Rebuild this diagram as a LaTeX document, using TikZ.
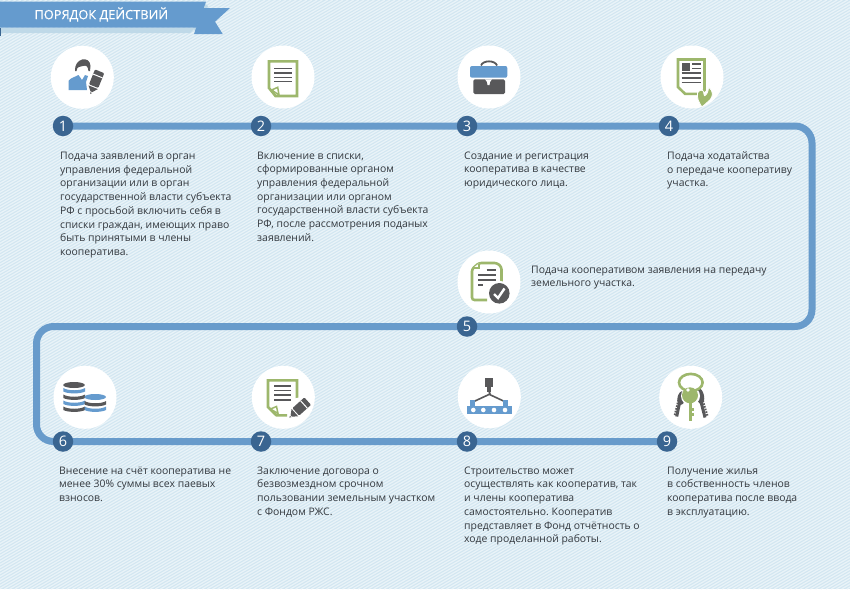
\documentclass[tikz,border=0pt]{standalone}
\usepackage{fontspec}
\usetikzlibrary{backgrounds}
\setmainfont{Open Sans}
\frenchspacing
\definecolor{bgc}{HTML}{D2E6F1}
\definecolor{stripe}{HTML}{E9F3F8}
\definecolor{pathc}{HTML}{689BCB}
\definecolor{numc}{HTML}{3A6591}
\definecolor{ribbon}{HTML}{659BCE}
\definecolor{ribshade}{HTML}{BFD9E8}
\definecolor{grn}{HTML}{9DB76C}
\definecolor{gry}{HTML}{58585A}
\definecolor{txt}{HTML}{33383E}
\newcommand{\pencilicon}[3]{%
  \begin{scope}[shift={(#1,#2)},rotate=#3]
    \fill[gry,rounded corners=1pt] (-5,-11) rectangle (5,5);
    \fill[white] (-5,-6.5) rectangle (5,-5.5);
    \fill[gry] (-5,6.2) -- (5,6.2) -- (1,11) -- (-1,11) -- cycle;
    \fill[gry] (-1,12) -- (1,12) -- (0,13.5) -- cycle;
  \end{scope}}
\newcommand{\coinband}[4]{% x1, x2, y, colour
  \pgfmathsetmacro\xa{#1+(#2-#1)*0.2}
  \pgfmathsetmacro\xb{#1+(#2-#1)*0.8}
  \pgfmathsetmacro\ya{#3+3}
  \pgfmathsetmacro\yb{#3+6}
  \pgfmathsetmacro\yc{#3+3.5}
  \fill[#4] (#1,#3) .. controls (\xa,\ya) and (\xb,\ya) .. (#2,#3) -- (#2,\yc) .. controls (\xb,\yb) and (\xa,\yb) .. (#1,\yc) -- cycle;}
\tikzset{
  x=1pt,y=-1pt,
  route/.style={draw=pathc,line width=7pt,rounded corners=17pt},
  num/.style={circle,fill=numc,minimum size=20.5pt,inner sep=0pt,text=white,font=\fontsize{14.5}{14.5}\selectfont},
  disc/.style={circle,fill=white,minimum size=63pt,inner sep=0pt},
  body/.style={anchor=north west,align=left,inner sep=0pt,text=txt,font=\fontsize{10.4}{13.7}\selectfont},
  grline/.style={draw=grn,fill=white,line width=2.6pt,line join=miter},
  fold/.style={draw=grn,fill=white,line width=1.5pt},
  ln/.style={draw=gry,line width=1.5pt},
}
\begin{document}
\begin{tikzpicture}
\useasboundingbox (0,0) rectangle (850,589);
\begin{pgfonlayer}{background}
\fill[bgc] (0,0) rectangle (850,589);
\begin{scope}
\clip (0,0) rectangle (850,589);
\foreach \k in {0,5.2,...,1900}{
  \draw[stripe,line width=1.3pt] (\k,0) -- ++(-1020,589);
}
\end{scope}
\end{pgfonlayer}
% ribbon
\fill[ribshade] (0,28) -- (195,28) -- (190,33) -- (0,33) -- cycle;
\fill[ribshade] (193,28) -- (204,3) -- (208,6) -- (197,33) -- cycle;
\fill[ribbon] (0,1.7) -- (206,1.7) -- (196.5,27.7) -- (0,27.7) -- cycle;
\fill[ribbon] (203,8) -- (230,8) -- (215,21.7) -- (222.7,34) -- (194,34) -- cycle;
\fill[numc] (0,28) rectangle (1.2,36);
\node[anchor=west,text=white,inner sep=0pt,font=\fontsize{12.8}{14}\selectfont\addfontfeature{FakeBold=0.4}] (title) at (34.3,14.5) {ПОРЯДОК ДЕЙСТВИЙ};
% route corners
\coordinate (c1) at (812,126);
\coordinate (c2) at (812,326.5);
\coordinate (c3) at (36.5,326.5);
\coordinate (c4) at (36.5,441.5);
% discs
\node[disc] (d1) at (82.3,77.3) {};
\node[disc] (d2) at (283,77) {};
\node[disc] (d3) at (489,77) {};
\node[disc] (d4) at (692,77) {};
\node[disc] (d5) at (489,282) {};
\node[disc] (d6) at (85,397.3) {};
\node[disc] (d7) at (283.3,397.3) {};
\node[disc] (d8) at (489.3,396.7) {};
\node[disc] (d9) at (690.7,397.3) {};
% numbers
\node[num] (n1) at (63,126) {1};
\node[num] (n2) at (261,126) {2};
\node[num] (n3) at (467,126) {3};
\node[num] (n4) at (669,126) {4};
\node[num] (n5) at (467,326.5) {5};
\node[num] (n6) at (63,441.5) {6};
\node[num] (n7) at (261,441.5) {7};
\node[num] (n8) at (467,441.5) {8};
\node[num] (n9) at (667,441.5) {9};
\begin{pgfonlayer}{background}
\draw[route] (n1.center) -- (c1) -- (c2) -- (c3) -- (c4) -- (n9.center);
\end{pgfonlayer}
% icon 1: man + pencil
\fill[gry] (75,71) .. controls (74,58) and (90,55) .. (90.5,66) -- (90,71) -- (88.5,71) .. controls (88,66) and (86,65) .. (83,66) .. controls (80,67) and (77,66) .. (76.5,71) -- cycle;
\fill[ribbon] (68.5,90) -- (68.5,81) .. controls (70,78) and (75,77) .. (78.5,75) -- (82,80) -- (85,75) -- (88,76) -- (86,82) -- (87,90) -- cycle;
\pencilicon{95.5}{81.5}{-22}
% icon 2: document
\draw[grline] (269,61.3) -- (297,61.3) -- (297,96) -- (275.5,96) -- (269,88) -- cycle;
\draw[fold] (271.7,90) -- (277.7,87.3) -- (279,95) -- cycle;
\foreach \y in {68.3,73,77.5,81.7}{\draw[ln] (274,\y) -- (292,\y);}
% icon 3: briefcase
\draw[gry,line width=1.8pt] (481,65.5) .. controls (483,60) and (495,60) .. (497,65.5);
\fill[gry,rounded corners=1.5pt] (473.3,79.3) rectangle (505,94);
\fill[ribbon,rounded corners=2pt] (470,66) rectangle (507.3,77.7);
\fill[white] (485,79.3) -- (492,79.3) -- (490,82) -- (489.5,85) -- (487.5,85) -- (487,82) -- cycle;
% icon 4: document + hand
\draw[grline] (678,59.5) -- (704.5,59.5) -- (704.5,90) -- (700,93.8) -- (685,93.8) -- (678,87) -- cycle;
\fill[gry] (681.7,63.3) rectangle (690,70.7);
\foreach \y in {64,68.3}{\draw[gry,line width=1.6pt] (692.3,\y) -- (701,\y);}
\foreach \y in {72.8,77.7,82.3}{\draw[gry,line width=1.6pt] (681.7,\y) -- (701,\y);}
\filldraw[fill=grn,draw=white,line width=0.8pt,rounded corners=2pt] (697.7,90.7) -- (703.3,90) -- (704.3,96.7) -- (708.3,91.7) -- (708.3,86.7) -- (712.7,91.7) -- (711.7,98.3) -- (701.7,107.3) -- (697.3,98.3) -- cycle;
% icon 5: document + check
\draw[grn,line width=2.6pt,fill=white,rounded corners=2.5pt] (487,300) -- (472,300) -- (472,269) -- (479,263) -- (497,263) -- (501.5,267) -- (501.5,285);
\draw[grn,line width=1.4pt,fill=white] (473,268) -- (479,268) -- (479,263.5);
\foreach \y/\a/\b in {270/486.7/496,275/478/496,280/478/496,285/478/483}{\draw[gry,line width=1.3pt] (\a,\y) -- (\b,\y);}
\fill[white] (499.3,293.3) circle (12.5);
\fill[gry] (499.3,293.3) circle (10.3);
\draw[white,line width=2.4pt] (494,294) -- (498,298) -- (504.5,288.5);
% icon 6: coins
\fill[gry] (74,385) ellipse (10.8 and 3);
\coinband{63.3}{85}{388}{ribbon}
\coinband{63.3}{85}{394.5}{gry}
\coinband{63.3}{85}{400.5}{ribbon}
\coinband{63.3}{85}{406.5}{gry}
\fill[ribbon] (95.2,397) ellipse (10.8 and 3);
\coinband{84.6}{106}{401}{gry}
\coinband{84.6}{106}{406.5}{ribbon}
% icon 7: document + pencil
\draw[grline] (297,408) -- (297,380.3) -- (268,380.3) -- (268,407) -- (276.5,415.4) -- (287,415.4);
\draw[fold] (270.5,409) -- (276.5,406.5) -- (278,413.5) -- cycle;
\foreach \y in {386,390.7,395,400}{\draw[ln] (274,\y) -- (290.7,\y);}
\fill[white] (299,409) circle (11.5);
\pencilicon{299.5}{408.5}{-48}
% icon 8: crane
\fill[gry] (485,377.7) rectangle (493.3,386.7);
\fill[gry] (487.3,386.7) rectangle (490.7,391.7);
\draw[gry,line width=1.6pt] (489,391) -- (490,394) -- (471.7,402.5) (488.5,394) -- (506.7,402.5);
\fill[ribbon] (470,400) rectangle (475,406.5);
\fill[ribbon] (503,400) rectangle (508,406.5);
\fill[ribbon] (466.7,405.7) rectangle (512.3,414.3);
\foreach \x in {473.3,483.3,494,505}{\fill[white] (\x,410) circle (2.3);}
% icon 9: keys
\draw[gry,line width=3pt] (680.5,398) -- (676.7,416.5);
\draw[gry,line width=2pt,dash pattern=on 1.6pt off 1.2pt] (678.5,400) -- (674.5,416);
\draw[gry,line width=3pt] (700,398) -- (705,417.5);
\draw[gry,line width=2pt,dash pattern=on 1.6pt off 1.2pt] (702,398) -- (707.5,416);
\fill[gry,rotate around={-12:(681.5,398)}] (681.5,398) ellipse (4 and 7);
\fill[gry,rotate around={12:(700,396)}] (700,396) ellipse (4 and 8);
\fill[white] (690.5,396) circle (9.5);
\draw[grn,line width=2.6pt] (690.8,382.5) ellipse (11.8 and 8.6);
\fill[grn] (690,395.3) circle (8);
\draw[grn,line width=3.4pt] (690.5,400) -- (690.5,420.5);
\fill[grn] (692,408) rectangle (693.8,411);
\fill[grn] (692,413) rectangle (693.8,416);
\fill[white] (688,390) circle (1.8);
% texts
\node[body] (t1) at (60,151.5) {Подача заявлений в орган\\управления федеральной\\организации или в орган\\государственной власти субъекта\\РФ с просьбой включить себя в\\списки граждан, имеющих право\\быть принятыми в члены\\кооператива.};
\node[body] (t2) at (257,151.5) {Включение в списки,\\сформированные органом\\управления федеральной\\организации или органом\\государственной власти субъекта\\РФ, после рассмотрения поданых\\заявлений.};
\node[body] (t3) at (464,151.5) {Создание и регистрация\\кооператива в качестве\\юридического лица.};
\node[body] (t4) at (667,151.5) {Подача ходатайства\\о передаче кооперативу\\участка.};
\node[body] (t5) at (531,265.5) {Подача кооперативом заявления на передачу\\земельного участка.};
\node[body] (t6) at (59,466.5) {Внесение на счёт кооператива не\\менее 30\% суммы всех паевых\\взносов.};
\node[body] (t7) at (257,466.5) {Заключение договора о\\безвозмездном срочном\\пользовании земельным участком\\с Фондом РЖС.};
\node[body] (t8) at (464,466.5) {Строительство может\\осуществлять как кооператив, так\\и члены кооператива\\самостоятельно. Кооператив\\представляет в Фонд отчётность о\\ходе проделанной работы.};
\node[body] (t9) at (667,466.5) {Получение жилья\\в собственность членов\\кооператива после ввода\\в эксплуатацию.};
\end{tikzpicture}
\end{document}
